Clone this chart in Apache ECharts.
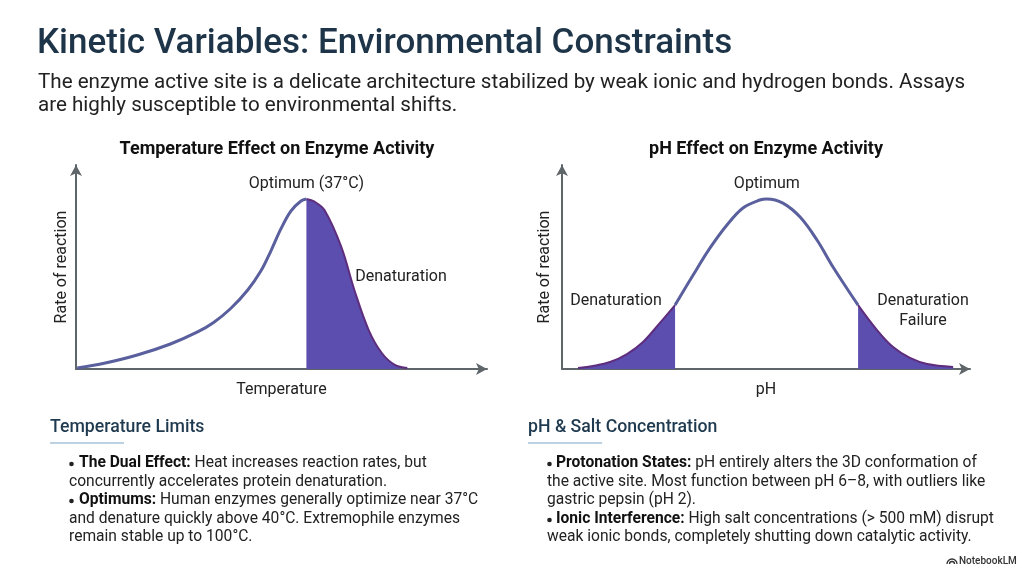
<!DOCTYPE html>
<html>
<head>
<meta charset="utf-8">
<script src="https://cdn.jsdelivr.net/npm/echarts@6/dist/echarts.min.js"></script>
<style>
  html, body { margin: 0; padding: 0; background: #fff; }
  #chart { width: 1024px; height: 572px; }
</style>
</head>
<body>
<div id="chart"></div>
<script>
// temperature curve (°C, relative rate)
var tempRiseX = [0.2, 4.35, 9.84, 15.16, 19.52, 22.1, 24.84, 27.58, 29.68, 31.29, 32.9, 34.5, 36.13, 37];
var tempRiseY = [0.006, 0.032, 0.082, 0.147, 0.218, 0.274, 0.356, 0.465, 0.576, 0.694, 0.824, 0.929, 0.988, 1.0];
var tempFallX = [37, 38.3, 39.9, 42.6, 44.7, 47.0, 49.1, 51.2, 53.2];
var tempFallY = [1.0, 0.984, 0.935, 0.718, 0.465, 0.229, 0.094, 0.024, 0.006];

// pH curve
var phLowX = [0.55, 1.06, 1.65, 2.23, 2.78, 3.36, 3.88];
var phLowY = [0.006, 0.018, 0.041, 0.088, 0.159, 0.271, 0.376];
var phMidX = [3.88, 4.50, 5.08, 5.66, 6.21, 6.79, 7.03, 7.58, 8.17, 8.75, 9.30, 9.88, 10.16];
var phMidY = [0.376, 0.553, 0.712, 0.847, 0.947, 0.994, 1.0, 0.976, 0.894, 0.759, 0.600, 0.447, 0.376];
var phHighX = [10.16, 10.81, 11.36, 11.94, 12.53, 13.42];
var phHighY = [0.376, 0.229, 0.129, 0.065, 0.029, 0.012];

var tempOptimum = 37;
var phOptimum = 7.03;

function pairs(xs, ys) {
    return xs.map(function (x, i) { return [x, ys[i]]; });
}

var FONT = 'Roboto, "Noto Sans", sans-serif';
var lineBlue = '#5a5f9e';
var fillPurple = '#5b4eae';
var edgePurple = '#5e2d7e';
var axisGrey = '#5f6669';
var SMOOTH = 0.35;

function axisX(idx, max, name) {
    return {
        type: 'value', gridIndex: idx, min: 0, max: max,
        name: name, nameLocation: 'middle', nameGap: 13,
        nameTextStyle: { fontFamily: FONT, fontSize: 16, color: '#222' },
        axisLine: { show: true, symbol: ['none', 'arrow'], symbolSize: [9, 11],
            lineStyle: { color: axisGrey, width: 2 } },
        axisTick: { show: false }, axisLabel: { show: false }, splitLine: { show: false }
    };
}
function axisY(idx, gap) {
    return {
        type: 'value', gridIndex: idx, min: 0, max: 1.2,
        name: 'Rate of reaction', nameLocation: 'middle', nameGap: gap, nameRotate: 90,
        nameTextStyle: { fontFamily: FONT, fontSize: 16, color: '#222' },
        axisLine: { show: true, symbol: ['none', 'arrow'], symbolSize: [9, 11],
            lineStyle: { color: axisGrey, width: 2 } },
        axisTick: { show: false }, axisLabel: { show: false }, splitLine: { show: false }
    };
}
function plain(xi, data) {
    return {
        type: 'line', xAxisIndex: xi, yAxisIndex: xi, data: data, smooth: SMOOTH,
        showSymbol: false, silent: true,
        lineStyle: { color: lineBlue, width: 3 }
    };
}
function shaded(xi, data) {
    return {
        type: 'line', xAxisIndex: xi, yAxisIndex: xi, data: data, smooth: SMOOTH,
        showSymbol: false, silent: true,
        lineStyle: { color: edgePurple, width: 2 },
        areaStyle: { color: fillPurple, opacity: 1 }
    };
}
function peakLabel(text, x) {
    return {
        symbol: 'circle', symbolSize: 1, itemStyle: { color: 'rgba(0,0,0,0)' },
        label: { show: true, position: 'top', distance: 7, formatter: text,
            fontFamily: FONT, fontSize: 16, color: '#222' },
        data: [{ coord: [x, 1.0] }]
    };
}

function txt(x, y, text, size, color, weight, align) {
    return {
        type: 'text', silent: true,
        style: { x: x, y: y, text: text, fill: color || '#222',
            font: (weight || 'normal') + ' ' + size + 'px ' + FONT,
            textAlign: align || 'left', textVerticalAlign: 'middle',
            rich: { b: { fontWeight: 'bold', fontSize: size, fontFamily: FONT, fill: '#111' } } }
    };
}
function dot(x, y) {
    return { type: 'circle', silent: true, shape: { cx: x, cy: y, r: 2.3 }, style: { fill: '#222' } };
}

var myChart = echarts.init(document.getElementById('chart'), null, { renderer: 'canvas' });

var ser1 = plain(0, pairs(tempRiseX, tempRiseY));
ser1.markPoint = peakLabel('Optimum (37°C)', tempOptimum);
var ser2 = plain(1, pairs(phMidX, phMidY));
ser2.markPoint = peakLabel('Optimum', phOptimum);

var BS = 15.6;
var option = {
    backgroundColor: '#fff',
    animation: false,
    grid: [
        { left: 76, top: 165, width: 411, height: 204 },
        { left: 562, top: 165, width: 408, height: 204 }
    ],
    xAxis: [axisX(0, 66, 'Temperature'), axisX(1, 14, 'pH')],
    yAxis: [axisY(0, 6), axisY(1, 9)],
    series: [
        shaded(0, pairs(tempFallX, tempFallY)),
        ser1,
        shaded(1, pairs(phLowX, phLowY)),
        shaded(1, pairs(phHighX, phHighY)),
        ser2
    ],
    graphic: [
        txt(37, 44, 'Kinetic Variables: Environmental Constraints', 35, '#1e3448', '500'),
        txt(38, 83, 'The enzyme active site is a delicate architecture stabilized by weak ionic and hydrogen bonds. Assays', 20.6, '#222'),
        txt(38, 106, 'are highly susceptible to environmental shifts.', 20.6, '#222'),

        txt(277, 149, 'Temperature Effect on Enzyme Activity', 18, '#111', 'bold', 'center'),
        txt(766, 149, 'pH Effect on Enzyme Activity', 18, '#111', 'bold', 'center'),

        txt(401, 277, 'Denaturation', 16, '#222', 'normal', 'center'),
        txt(616, 301, 'Denaturation', 16, '#222', 'normal', 'center'),
        txt(923, 301, 'Denaturation', 16, '#222', 'normal', 'center'),
        txt(923, 321, 'Failure', 16, '#222', 'normal', 'center'),

        txt(50, 428, 'Temperature Limits', 17.7, '#1f3a4f', '500'),
        { type: 'line', silent: true, shape: { x1: 50, y1: 443, x2: 124, y2: 443 },
          style: { stroke: '#bcd2e3', lineWidth: 2 } },
        dot(71.5, 464),
        txt(79, 463, '{b|The Dual Effect:} Heat increases reaction rates, but', BS, '#222'),
        txt(69, 482, 'concurrently accelerates protein denaturation.', BS, '#222'),
        dot(71.5, 501),
        txt(79, 500, '{b|Optimums:} Human enzymes generally optimize near 37°C', BS, '#222'),
        txt(69, 519, 'and denature quickly above 40°C. Extremophile enzymes', BS, '#222'),
        txt(69, 537, 'remain stable up to 100°C.', BS, '#222'),

        txt(528, 428, 'pH & Salt Concentration', 17.7, '#1f3a4f', '500'),
        { type: 'line', silent: true, shape: { x1: 528, y1: 443, x2: 602, y2: 443 },
          style: { stroke: '#bcd2e3', lineWidth: 2 } },
        dot(549.5, 464),
        txt(556, 463, '{b|Protonation States:} pH entirely alters the 3D conformation of', BS, '#222'),
        txt(547, 482, 'the active site. Most function between pH 6–8, with outliers like', BS, '#222'),
        txt(547, 500, 'gastric pepsin (pH 2).', BS, '#222'),
        dot(549.5, 520),
        txt(556, 519, '{b|Ionic Interference:} High salt concentrations (> 500 mM) disrupt', BS, '#222'),
        txt(547, 537, 'weak ionic bonds, completely shutting down catalytic activity.', BS, '#222'),

        { type: 'arc', silent: true, shape: { cx: 952, cy: 564, r: 5, startAngle: Math.PI, endAngle: 2 * Math.PI },
          style: { stroke: '#333', fill: null, lineWidth: 1.3 } },
        { type: 'arc', silent: true, shape: { cx: 952, cy: 564, r: 2.5, startAngle: Math.PI, endAngle: 2 * Math.PI },
          style: { stroke: '#333', fill: null, lineWidth: 1.3 } },
        txt(959, 561, 'NotebookLM', 10, '#333', '500')
    ]
};

myChart.setOption(option);
</script>
</body>
</html>
